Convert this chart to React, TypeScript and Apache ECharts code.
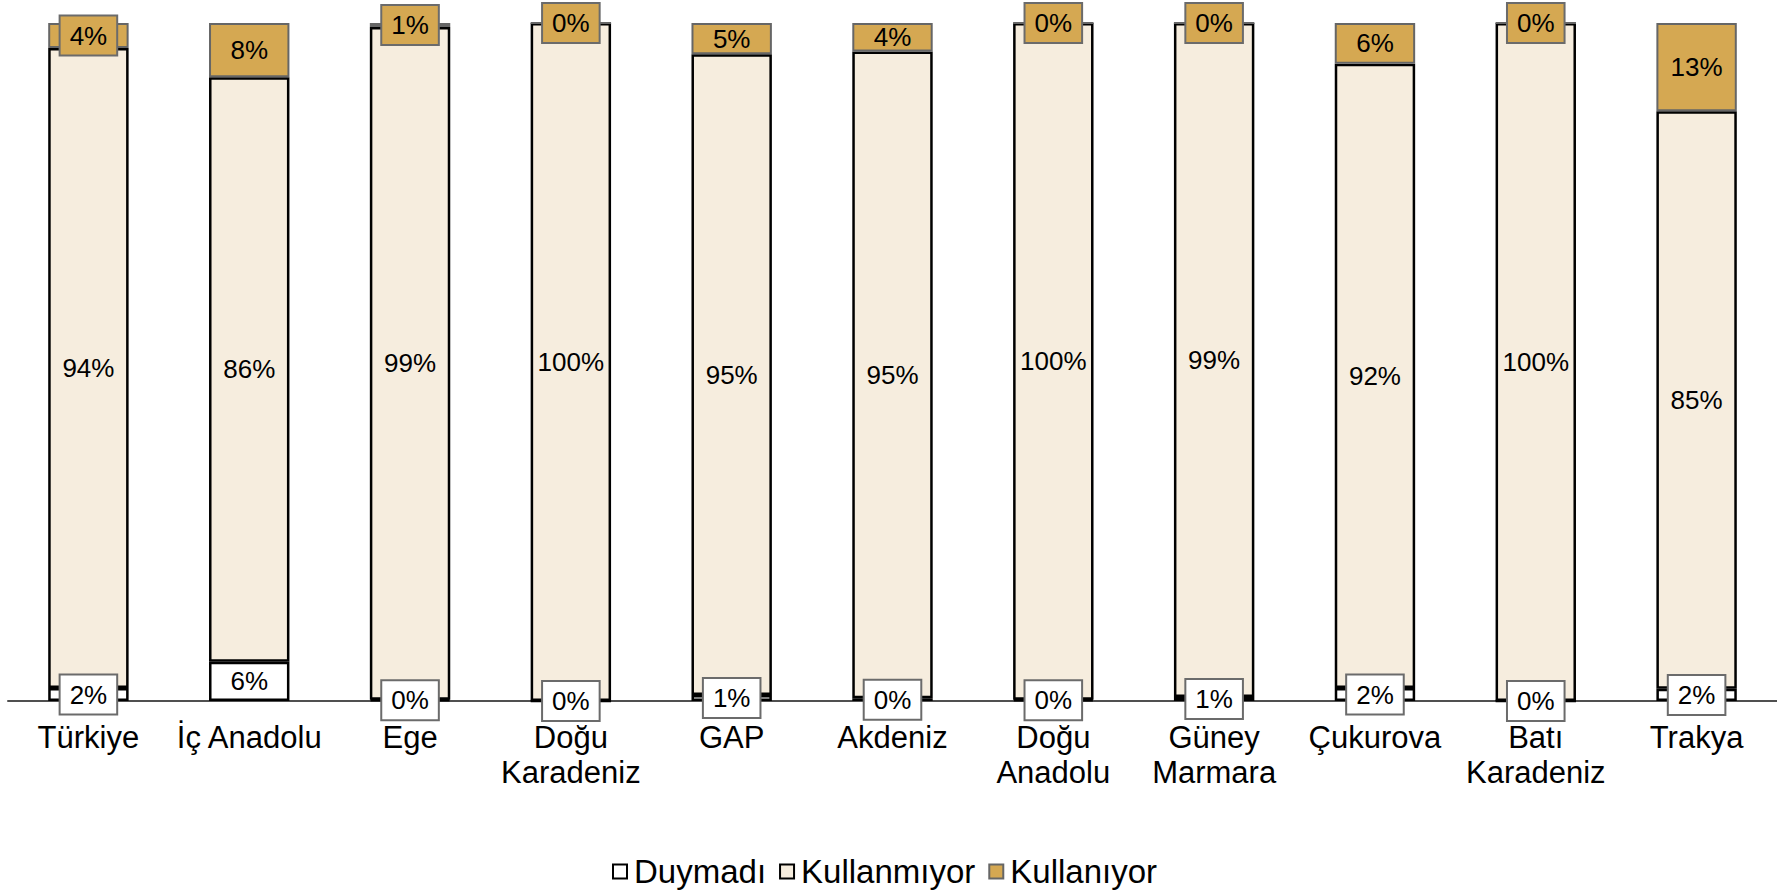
import React, { useEffect, useRef } from "react";
import * as echarts from "echarts";

const categories = [
  "Türkiye",
  "İç Anadolu",
  "Ege",
  "Doğu\nKaradeniz",
  "GAP",
  "Akdeniz",
  "Doğu\nAnadolu",
  "Güney\nMarmara",
  "Çukurova",
  "Batı\nKaradeniz",
  "Trakya",
];

const duymadi = [1.9, 5.8, 0.2, 0, 0.9, 0.4, 0.2, 0.6, 1.9, 0, 1.8];
const kullanmiyor = [94.4, 86.2, 99.2, 100, 94.5, 95.4, 99.8, 99.4, 92.1, 100, 85.2];
const kullaniyor = [3.7, 8.0, 0.6, 0, 4.6, 4.2, 0, 0, 6.0, 0, 13.0];

const seriesNames = ["Duymadı", "Kullanmıyor", "Kullanıyor"];

const FONT = "'Liberation Sans', Arial, sans-serif";
const LABEL_SIZE = 26;
const fmt = (p: any) => Math.round(p.value) + "%";

export default function App() {
  const ref = useRef<HTMLDivElement>(null);
  useEffect(() => {
    if (!ref.current) return;
    const chart = echarts.init(ref.current, null, { renderer: "svg" });
    const plainLabel = {
      show: true,
      position: "inside",
      formatter: fmt,
      fontFamily: FONT,
      fontSize: LABEL_SIZE,
      color: "#000",
    };
    // small segments get a boxed label floating over the segment
    const withBoxes = (values: number[], bg: string) =>
      values.map((v) =>
        v < 3.9
          ? {
              value: v,
              label: {
                backgroundColor: bg,
                borderColor: "#6b6b6b",
                borderWidth: 2,
                padding: [7, 9, 5, 9],
              },
            }
          : { value: v }
      );
    chart.setOption({
      animation: false,
      textStyle: { fontFamily: FONT },
      grid: { left: 8, right: 0, top: 23, bottom: 189, containLabel: false },
      legend: {
        data: seriesNames,
        icon: "rect",
        left: 612,
        top: 855,
        padding: 0,
        itemWidth: 14,
        itemHeight: 14,
        itemGap: 13,
        textStyle: {
          fontSize: 33,
          lineHeight: 33,
          color: "#000",
          fontFamily: FONT,
          padding: [0, 0, 0, 2],
        },
      },
      xAxis: {
        type: "category",
        data: categories,
        axisTick: { show: false },
        axisLine: { lineStyle: { color: "#505050", width: 2 } },
        axisLabel: {
          fontSize: 31,
          color: "#000",
          fontFamily: FONT,
          margin: 19,
          lineHeight: 35,
          interval: 0,
        },
      },
      yAxis: {
        type: "value",
        min: 0,
        max: 100,
        show: false,
        splitLine: { show: false },
      },
      series: [
        {
          name: seriesNames[0],
          type: "bar",
          stack: "t",
          data: withBoxes(duymadi, "#ffffff"),
          barWidth: "50%",
          itemStyle: { color: "#ffffff", borderColor: "#000", borderWidth: 2.5 },
          label: plainLabel,
          z: 3,
        },
        {
          name: seriesNames[1],
          type: "bar",
          stack: "t",
          data: kullanmiyor,
          barWidth: "50%",
          itemStyle: { color: "#F6EDDE", borderColor: "#000", borderWidth: 2.5 },
          label: plainLabel,
          z: 2,
        },
        {
          name: seriesNames[2],
          type: "bar",
          stack: "t",
          data: withBoxes(kullaniyor, "#D5A852"),
          barWidth: "50%",
          itemStyle: { color: "#D5A852", borderColor: "#666666", borderWidth: 2 },
          label: plainLabel,
          z: 2,
        },
      ],
    });
    return () => chart.dispose();
  }, []);
  return (
    <div
      ref={ref}
      style={{ position: "fixed", left: 0, top: 0, width: 1777, height: 890, background: "#fff" }}
    />
  );
}
